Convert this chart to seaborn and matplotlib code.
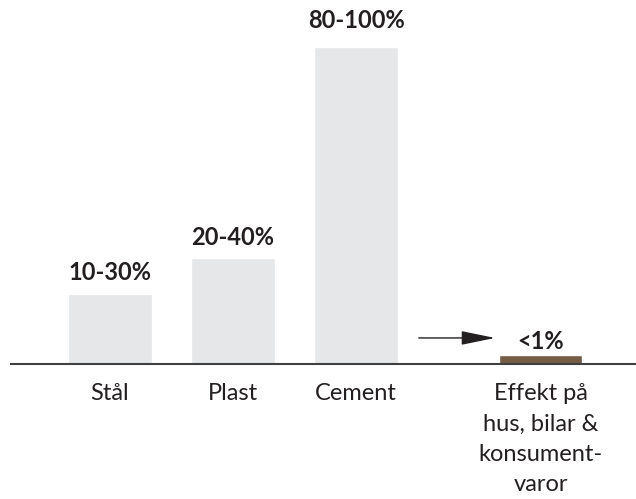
import matplotlib
matplotlib.use("Agg")
import matplotlib.pyplot as plt
import seaborn as sns
import pandas as pd

# data (bar heights are midpoints of the ranges)
categories = ["Stål", "Plast", "Cement", "Effekt på\nhus, bilar &\nkonsument-\nvaror"]
positions = [0, 1, 2, 3.5]
values = [20, 30, 90, 2.5]
value_labels = ["10-30%", "20-40%", "80-100%", "<1%"]
bar_colors = ["#e6e7e8", "#e6e7e8", "#e6e7e8", "#745c45"]

sns.set_theme(style="white")
plt.rcParams["font.family"] = ["Lato", "DejaVu Sans"]
text_color = "#231f20"

df = pd.DataFrame({"pos": positions, "value": values, "cat": categories})

fig = plt.figure(figsize=(6.36, 4.99), dpi=100)
ax = fig.add_axes([11 / 636, 135 / 499, 625 / 636, 352 / 499])

sns.barplot(data=df, x="pos", y="value", hue="cat", palette=bar_colors,
            native_scale=True, dodge=False, width=0.68, legend=False,
            saturation=1, ax=ax)

ax.set_xlim(-0.805, 4.276)
ax.set_ylim(0, 100)

# value labels above the bars (gap in points, tuned per bar like the original)
gaps = [10, 10, 13.5, 4.5]
for x, v, lab, g in zip(positions, values, value_labels, gaps):
    ax.annotate(lab, (x, v), xytext=(0, g), textcoords="offset points",
                ha="center", va="baseline", fontsize=17, fontweight="bold",
                color=text_color)

# arrow pointing at the small bar
ax.annotate("", xy=(3.13, 7.4), xytext=(2.51, 7.4),
            arrowprops=dict(arrowstyle="-|>,head_length=2.1,head_width=0.43",
                            mutation_scale=10, color=text_color, lw=1,
                            shrinkA=0, shrinkB=0))

ax.set_xticks(positions, categories)
ax.tick_params(axis="x", length=0, pad=14, labelsize=17, labelcolor=text_color)
for t in ax.get_xticklabels():
    t.set_linespacing(1.55)
ax.set_yticks([])
ax.set_xlabel("")
ax.set_ylabel("")

for side in ["left", "right", "top"]:
    ax.spines[side].set_visible(False)
ax.spines["bottom"].set_color("#404040")
ax.spines["bottom"].set_linewidth(1.5)

fig.savefig("out.png", dpi=100)
